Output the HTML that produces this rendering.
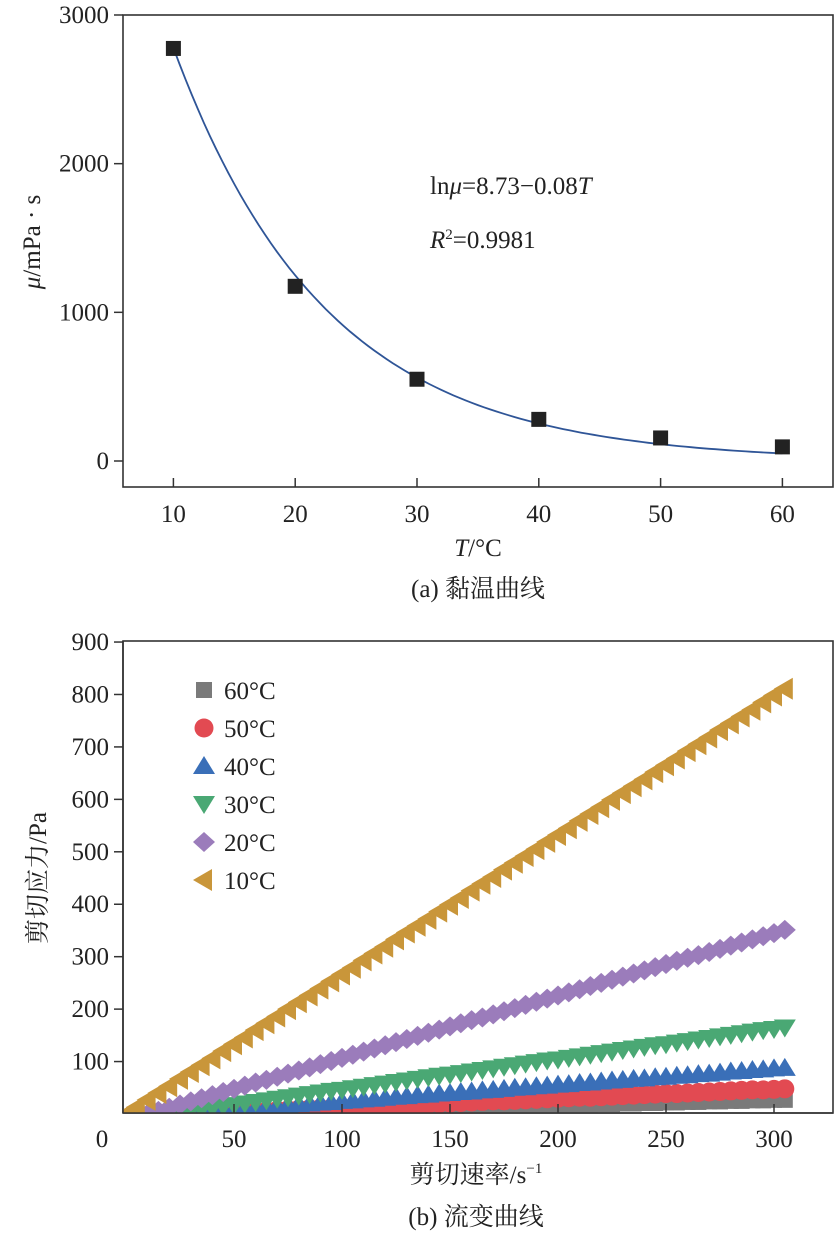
<!DOCTYPE html>
<html><head><meta charset="utf-8">
<style>
html,body{margin:0;padding:0;background:#fff;}
svg{display:block;font-family:"Liberation Serif","Noto Serif CJK SC",serif;}
</style></head>
<body>
<svg id="chart" width="840" height="1237" viewBox="0 0 840 1237" xmlns="http://www.w3.org/2000/svg"></svg>
<script>
// ---- Chart (a) data ----
const tempCats = [10, 20, 30, 40, 50, 60];
const viscValues = [2775, 1175, 550, 280, 155, 95];
const fitCoef = [8.73, 0.08];
const aXTicks = [10, 20, 30, 40, 50, 60];
const aYTicks = [0, 1000, 2000, 3000];
// ---- Chart (b) data ----
const shearRates = [0,5,10,15,20,25,30,35,40,45,50,55,60,65,70,75,80,85,90,95,100,105,110,115,120,125,130,135,140,145,150,155,160,165,170,175,180,185,190,195,200,205,210,215,220,225,230,235,240,245,250,255,260,265,270,275,280,285,290,295,300,305];
const s10 = [0,13,27,40,53,67,80,93,106,120,133,146,160,173,186,200,213,226,239,253,266,279,293,306,319,333,346,359,372,386,399,412,426,439,452,466,479,492,505,519,532,545,559,572,585,599,612,625,638,652,665,678,692,705,718,732,745,758,771,785,798,811];
const s20 = [null,null,0,6,12,18,24,30,36,42,48,54,60,65,71,77,83,89,95,101,107,113,119,125,131,137,143,149,155,161,167,173,179,184,190,196,202,208,214,220,226,232,238,244,250,256,262,268,274,280,286,292,298,303,309,315,321,327,333,339,345,351];
const s30 = [null,null,null,null,0,3,6,9,12,15,17,20,23,26,29,32,35,38,41,44,46,49,52,55,58,61,64,67,70,73,75,78,81,84,87,90,93,96,99,102,104,107,110,113,116,119,122,125,128,131,133,136,139,142,145,148,151,154,157,160,162,165];
const s40 = [null,null,null,null,0,2,3,5,6,8,9,11,12,14,15,17,19,20,22,23,25,26,28,29,31,33,34,36,37,39,40,42,43,45,46,48,50,51,53,54,56,57,59,60,62,64,65,67,68,70,71,73,74,76,77,79,81,82,84,85,87,88];
const s50 = [null,null,null,null,null,null,0,1,2,3,4,4,5,6,7,8,9,10,11,11,12,13,14,15,16,17,18,18,19,20,21,22,23,24,25,25,26,27,28,29,30,31,32,32,33,34,35,36,37,38,39,39,40,41,42,43,44,45,46,46,47,48];
const s60 = [null,null,null,null,null,null,0,0,1,1,2,2,3,3,4,4,5,5,6,6,7,7,8,8,9,9,10,10,11,11,12,12,13,13,14,14,15,15,16,16,17,17,18,18,19,19,20,20,21,21,22,22,23,23,24,24,25,25,26,26,27,27];
const seriesLabels = ["60°C","50°C","40°C","30°C","20°C","10°C"];
const bXTicks = [0, 50, 100, 150, 200, 250, 300];
const bYTicks = [100, 200, 300, 400, 500, 600, 700, 800, 900];

const NS = "http://www.w3.org/2000/svg";
const svg = document.getElementById("chart");
const FS = 25;
function mk(tag, attrs, parent) {
  const e = document.createElementNS(NS, tag);
  for (const k in attrs) e.setAttribute(k, attrs[k]);
  (parent || svg).appendChild(e);
  return e;
}
function txt(x, y, s, size, anchor, parent) {
  const t = mk("text", {x: x, y: y, "font-size": size, "text-anchor": anchor || "middle", fill: "#222"}, parent);
  t.textContent = s;
  return t;
}

// ===== Chart (a) =====
const ax = v => 417 + (v - 30) * 12.18;
const ay = v => 461 - v * 0.14867;
const gA = mk("g", {});


const frameA = mk("rect", {x: 123, y: 15, width: 710, height: 472, fill: "none", stroke: "#333", "stroke-width": 1.6}, gA);


aXTicks.forEach(v => {
  const l = mk("line", {x1: ax(v), x2: ax(v), y1: 487, y2: 478, stroke: "#333", "stroke-width": 1.5}, gA);
  
  
  const t = txt(ax(v), 522, String(v), FS, "middle", gA);
  
  
});
aYTicks.forEach(v => {
  const l = mk("line", {x1: 123, x2: 114, y1: ay(v), y2: ay(v), stroke: "#333", "stroke-width": 1.5}, gA);
  
  
  const t = txt(109, ay(v) + 8, String(v), FS, "end", gA);
  
  
});
let d = "";
for (let T = tempCats[0]; T <= tempCats[tempCats.length - 1] + 0.001; T += 0.5) {
  const v = Math.exp(fitCoef[0] - fitCoef[1] * T);
  d += (d ? "L" : "M") + ax(T).toFixed(1) + "," + ay(v).toFixed(1);
}
const fit = mk("path", {d: d, fill: "none", stroke: "#2f5597", "stroke-width": 1.8}, gA);


tempCats.forEach((T, i) => {
  const r = mk("rect", {x: ax(T) - 7.5, y: ay(viscValues[i]) - 7.5, width: 15, height: 15, fill: "#222"}, gA);
  
  
});
const eq = mk("text", {x: 430, y: 194, "font-size": FS, fill: "#222"}, gA);
eq.innerHTML = 'ln<tspan font-style="italic">μ</tspan>=8.73−0.08<tspan font-style="italic">T</tspan>';


const r2 = mk("text", {x: 430, y: 248, "font-size": FS, fill: "#222"}, gA);
r2.innerHTML = '<tspan font-style="italic">R</tspan><tspan font-size="15" dy="-9">2</tspan><tspan dy="9">=0.9981</tspan>';


const yTitleA = mk("text", {x: 0, y: 0, "font-size": FS, fill: "#222", "text-anchor": "middle", transform: "translate(40,242) rotate(-90)"}, gA);
yTitleA.innerHTML = '<tspan font-style="italic">μ</tspan>/mPa · s';


const xTitleA = mk("text", {x: 478, y: 556, "font-size": FS, fill: "#222", "text-anchor": "middle"}, gA);
xTitleA.innerHTML = '<tspan font-style="italic">T</tspan>/°C';


const capA = txt(478, 597, "(a) 黏温曲线", FS, "middle", gA);



// ===== Chart (b) =====
const bx = v => 126 + v * 2.16;
const by = v => 1114 - v * 0.5244;
const gB = mk("g", {});


const frameB = mk("rect", {x: 123, y: 641, width: 710, height: 472, fill: "none", stroke: "#333", "stroke-width": 1.6}, gB);



const seriesData = [s60, s50, s40, s30, s20, s10];
const colors = ["#7a7a7a", "#e24a52", "#3a6fb8", "#4aa874", "#9b7cbb", "#c9963a"];
const shapes = ["square", "circle", "up", "down", "diamond", "left"];
function marker(shape, x, y, color, parent) {
  const s = 10;
  let e;
  if (shape === "square") e = mk("rect", {x: x - 8, y: y - 8, width: 16, height: 16, fill: color}, parent);
  else if (shape === "circle") e = mk("circle", {cx: x, cy: y, r: 9.5, fill: color}, parent);
  else {
    let p;
    if (shape === "up") p = [[x, y - s], [x + s + 1, y + s - 2], [x - s - 1, y + s - 2]];
    if (shape === "down") p = [[x, y + s], [x + s + 1, y - s + 2], [x - s - 1, y - s + 2]];
    if (shape === "diamond") p = [[x, y - s], [x + s + 1, y], [x, y + s], [x - s - 1, y]];
    if (shape === "left") p = [[x - s - 1, y], [x + s - 2, y - s - 1], [x + s - 2, y + s + 1]];
    e = mk("polygon", {points: p.map(q => q.join(",")).join(" "), fill: color}, parent);
  }
  return e;
}
const clip = mk("clipPath", {id: "plotclip"}, gB);
mk("rect", {x: 123, y: 641, width: 710, height: 472}, clip);
const plotG = mk("g", {"clip-path": "url(#plotclip)"}, gB);


seriesData.forEach((arr, si) => {
  const g = mk("g", {}, plotG);
  
  
  arr.forEach((v, i) => {
    if (v === null) return;
    const m = marker(shapes[si], bx(shearRates[i]), by(v), colors[si], g);
    
    
  });
});
mk("line", {x1: 123, x2: 833, y1: 1113, y2: 1113, stroke: "#333", "stroke-width": 1.6}, gB);
mk("line", {x1: 123, x2: 123, y1: 641, y2: 1113, stroke: "#333", "stroke-width": 1.6}, gB);
bXTicks.forEach(v => {
  if (v > 0) {
    const l = mk("line", {x1: bx(v), x2: bx(v), y1: 1113, y2: 1104, stroke: "#333", "stroke-width": 1.5}, gB);
    
    
  }
  const t = txt(v === 0 ? 102 : bx(v), 1147, String(v), FS, "middle", gB);
  
  
});
bYTicks.forEach(v => {
  const l = mk("line", {x1: 123, x2: 114, y1: by(v), y2: by(v), stroke: "#333", "stroke-width": 1.5}, gB);
  
  
  const t = txt(109, by(v) + 8, String(v), FS, "end", gB);
  
  
});
const leg = mk("g", {}, gB);


seriesLabels.forEach((lab, i) => {
  const y = 690 + i * 38;
  const m = marker(shapes[i], 204, y, colors[i], leg);
  
  
  const t = txt(224, y + 9, lab, FS, "start", leg);
  
  
});
const yTitleB = mk("text", {x: 0, y: 0, "font-size": FS, fill: "#222", "text-anchor": "middle", transform: "translate(46,878) rotate(-90)"}, gB);
yTitleB.textContent = "剪切应力/Pa";


const xTitleB = mk("text", {x: 476, y: 1183, "font-size": FS, fill: "#222", "text-anchor": "middle"}, gB);
xTitleB.innerHTML = '剪切速率/s<tspan font-size="15" dy="-10">−1</tspan>';


const capB = txt(476, 1225, "(b) 流变曲线", FS, "middle", gB);


</script>
</body></html>
